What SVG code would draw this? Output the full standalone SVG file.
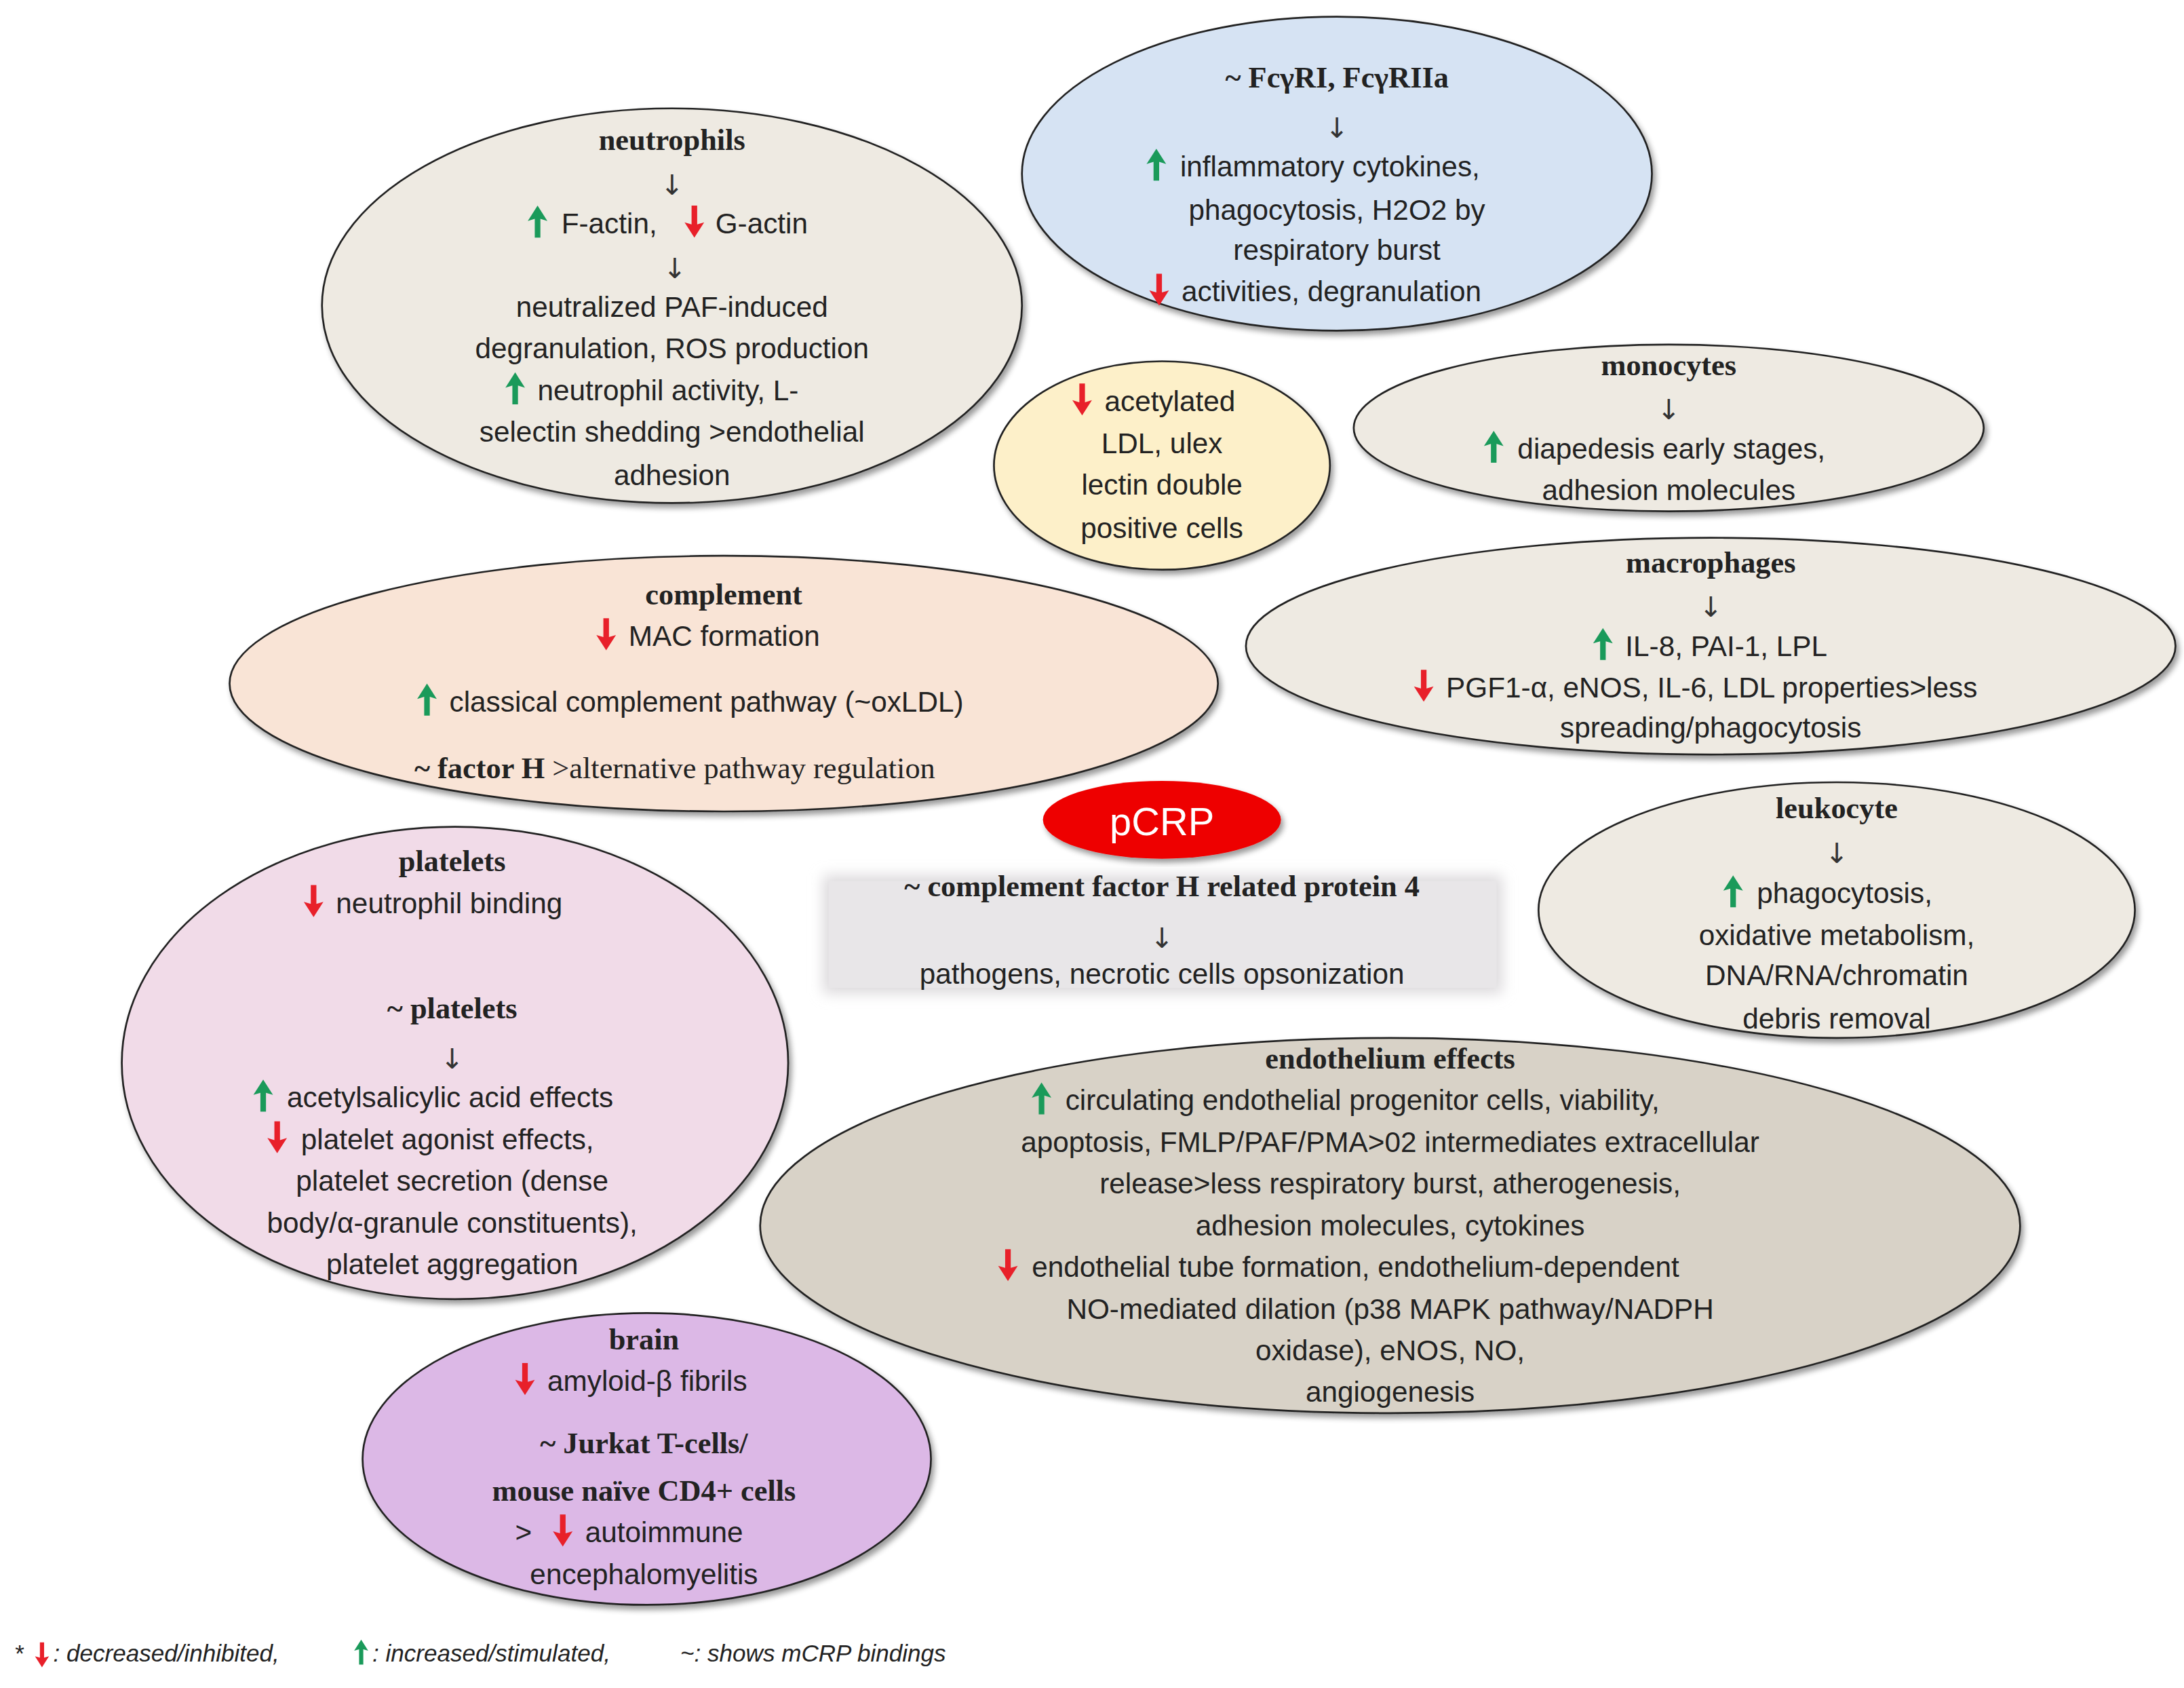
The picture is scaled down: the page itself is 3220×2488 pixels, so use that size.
<svg xmlns="http://www.w3.org/2000/svg" width="3220" height="2488" viewBox="0 0 3220 2488">
<style>
.e{stroke:#222;stroke-width:1.3}
.t{font-family:"Liberation Sans",Arial,sans-serif;font-size:20.5px;fill:#222}
.c{text-anchor:middle}
.b{font-family:"Liberation Serif","Times New Roman",serif;font-weight:bold;font-size:21.5px;fill:#222}
.a{font-family:"DejaVu Sans",sans-serif;font-size:20px;fill:#333;text-anchor:middle}
.i{font-family:"Liberation Sans",Arial,sans-serif;font-style:italic;font-size:17px;fill:#222}
</style>
<defs>
<path id="up" d="M0,-20 L-7,-9 L-2,-10.5 L-2,3 L2,3 L2,-10.5 L7,-9 Z" fill="#1a9a5a"/>
<path id="dn" d="M0,3 L-7,-8 L-2,-6.5 L-2,-20 L2,-20 L2,-6.5 L7,-8 Z" fill="#e8202a"/>
<filter id="sh" x="-10%" y="-10%" width="120%" height="120%"><feGaussianBlur in="SourceAlpha" stdDeviation="2"/><feOffset dx="2" dy="3"/><feComponentTransfer><feFuncA type="linear" slope="0.4"/></feComponentTransfer><feMerge><feMergeNode/><feMergeNode in="SourceGraphic"/></feMerge></filter>
<filter id="bl" x="-10%" y="-20%" width="120%" height="140%"><feGaussianBlur stdDeviation="5"/></filter>
</defs>
<rect width="3220" height="2488" fill="#fff"/>
<g transform="scale(2.064,2.048)">
<g id="neutrophils">
<ellipse class="e" cx="480" cy="220" rx="250" ry="142" fill="#eeeae2" filter="url(#sh)"/>
<text class="b c" x="480" y="108">neutrophils</text>
<text class="a" x="480" y="140">↓</text>
<use href="#up" x="384" y="168"/><text class="t" x="401" y="168">F-actin,</text>
<use href="#dn" x="496" y="168"/><text class="t" x="511" y="168">G-actin</text>
<text class="a" x="482" y="200">↓</text>
<text class="t c" x="480" y="228">neutralized PAF-induced</text>
<text class="t c" x="480" y="258">degranulation, ROS production</text>
<use href="#up" x="368" y="288"/><text class="t" x="384" y="288">neutrophil activity, L-</text>
<text class="t c" x="480" y="318">selectin shedding &gt;endothelial</text>
<text class="t c" x="480" y="349">adhesion</text>
</g>
<g id="fcgr">
<ellipse class="e" cx="955" cy="125" rx="225" ry="113" fill="#d6e3f3" filter="url(#sh)"/>
<text class="b c" x="955" y="63">~ FcγRI, FcγRIIa</text>
<text class="a" x="955" y="99">↓</text>
<use href="#up" x="826" y="127"/><text class="t" x="843" y="127">inflammatory cytokines,</text>
<text class="t c" x="955" y="158">phagocytosis, H2O2 by</text>
<text class="t c" x="955" y="187">respiratory burst</text>
<use href="#dn" x="828" y="217"/><text class="t" x="844" y="217">activities, degranulation</text>
</g>
<g id="acetylated">
<ellipse class="e" cx="830" cy="335" rx="120" ry="75" fill="#fdf0c9" filter="url(#sh)"/>
<use href="#dn" x="773" y="296"/><text class="t" x="789" y="296">acetylated</text>
<text class="t c" x="830" y="326">LDL, ulex</text>
<text class="t c" x="830" y="356">lectin double</text>
<text class="t c" x="830" y="387">positive cells</text>
</g>
<g id="monocytes">
<ellipse class="e" cx="1192" cy="308" rx="225" ry="60" fill="#eeeae2" filter="url(#sh)"/>
<text class="b c" x="1192" y="270">monocytes</text>
<text class="a" x="1192" y="302">↓</text>
<use href="#up" x="1067" y="330"/><text class="t" x="1084" y="330">diapedesis early stages,</text>
<text class="t c" x="1192" y="360">adhesion molecules</text>
</g>
<g id="macrophages">
<ellipse class="e" cx="1222" cy="465" rx="332" ry="78" fill="#eeeae2" filter="url(#sh)"/>
<text class="b c" x="1222" y="412">macrophages</text>
<text class="a" x="1222" y="444">↓</text>
<use href="#up" x="1145" y="472"/><text class="t" x="1161" y="472">IL-8, PAI-1, LPL</text>
<use href="#dn" x="1017" y="502"/><text class="t" x="1033" y="502">PGF1-α, eNOS, IL-6, LDL properties&gt;less</text>
<text class="t c" x="1222" y="531">spreading/phagocytosis</text>
</g>
<g id="complement">
<ellipse class="e" cx="517" cy="492" rx="353" ry="92" fill="#f9e4d6" filter="url(#sh)"/>
<text class="b c" x="517" y="435">complement</text>
<use href="#dn" x="433" y="465"/><text class="t" x="449" y="465">MAC formation</text>
<use href="#up" x="305" y="512"/><text class="t" x="321" y="512">classical complement pathway (~oxLDL)</text>
<text class="b" x="296" y="560" font-size="22">~ factor H <tspan font-weight="normal">&gt;alternative  pathway regulation</tspan></text>
</g>
<g id="pcrp">
<ellipse cx="830" cy="590" rx="85" ry="28" fill="#ee0000" filter="url(#sh)"/>
<text class="t c" x="830" y="601" font-size="28" fill="#fff" style="fill:#fff;font-size:28px">pCRP</text>
</g>
<g id="cfhr4">
<rect x="588" y="630" width="485" height="85" fill="#dcd9dc" filter="url(#bl)"/>
<rect x="592" y="634" width="477" height="77" fill="#e8e6e8"/>
<text class="b c" x="830" y="645">~ complement factor H related protein 4</text>
<text class="a" x="830" y="682">↓</text>
<text class="t c" x="830" y="708">pathogens, necrotic cells opsonization</text>
</g>
<g id="leukocyte">
<ellipse class="e" cx="1312" cy="655" rx="213" ry="92" fill="#eeeae2" filter="url(#sh)"/>
<text class="b c" x="1312" y="589">leukocyte</text>
<text class="a" x="1312" y="621">↓</text>
<use href="#up" x="1238" y="650"/><text class="t" x="1255" y="650">phagocytosis,</text>
<text class="t c" x="1312" y="680">oxidative metabolism,</text>
<text class="t c" x="1312" y="709">DNA/RNA/chromatin</text>
<text class="t c" x="1312" y="740">debris removal</text>
</g>
<g id="platelets">
<ellipse class="e" cx="325" cy="765" rx="238" ry="170" fill="#f1dbe8" filter="url(#sh)"/>
<text class="b c" x="323" y="627">platelets</text>
<use href="#dn" x="224" y="657"/><text class="t" x="240" y="657">neutrophil binding</text>
<text class="b c" x="323" y="733">~ platelets</text>
<text class="a" x="323" y="769">↓</text>
<use href="#up" x="188" y="797"/><text class="t" x="205" y="797">acetylsalicylic acid effects</text>
<use href="#dn" x="198" y="827"/><text class="t" x="215" y="827">platelet agonist effects,</text>
<text class="t c" x="323" y="857">platelet secretion (dense</text>
<text class="t c" x="323" y="887">body/α-granule constituents),</text>
<text class="t c" x="323" y="917">platelet aggregation</text>
</g>
<g id="endothelium">
<ellipse class="e" cx="993" cy="882" rx="450" ry="135" fill="#d8d2c7" filter="url(#sh)"/>
<text class="b c" x="993" y="769">endothelium effects</text>
<use href="#up" x="744" y="799"/><text class="t" x="761" y="799">circulating endothelial progenitor cells, viability,</text>
<text class="t c" x="993" y="829">apoptosis, FMLP/PAF/PMA&gt;02 intermediates extracellular</text>
<text class="t c" x="993" y="859">release&gt;less respiratory burst, atherogenesis,</text>
<text class="t c" x="993" y="889">adhesion molecules, cytokines</text>
<use href="#dn" x="720" y="919"/><text class="t" x="737" y="919">endothelial tube formation, endothelium-dependent</text>
<text class="t c" x="993" y="949">NO-mediated dilation (p38 MAPK pathway/NADPH</text>
<text class="t c" x="993" y="979">oxidase), eNOS, NO,</text>
<text class="t c" x="993" y="1009">angiogenesis</text>
</g>
<g id="brain">
<ellipse class="e" cx="462" cy="1050" rx="203" ry="105" fill="#dcb8e6" filter="url(#sh)"/>
<text class="b c" x="460" y="971">brain</text>
<use href="#dn" x="375" y="1001"/><text class="t" x="391" y="1001">amyloid-β fibrils</text>
<text class="b c" x="460" y="1046">~ Jurkat T-cells/</text>
<text class="b c" x="460" y="1080">mouse naïve CD4+ cells</text>
<text class="t" x="368" y="1110">&gt;</text>
<use href="#dn" x="402" y="1110"/><text class="t" x="418" y="1110">autoimmune</text>
<text class="t c" x="460" y="1140">encephalomyelitis</text>
</g>
<g id="legend">
<text class="i" x="10" y="1196" font-style="normal">*</text>
<use href="#dn" x="30" y="1198" transform="translate(3 360) scale(0.7)" style="display:none"/>
<path d="M30,1200 L25,1192 L28.5,1193 L28.5,1182 L31.5,1182 L31.5,1193 L35,1192 Z" fill="#e8202a"/>
<text class="i" x="38" y="1196">: decreased/inhibited,</text>
<path d="M258,1180 L253,1188 L256.5,1187 L256.5,1198 L259.5,1198 L259.5,1187 L263,1188 Z" fill="#1a9a5a"/>
<text class="i" x="266" y="1196">: increased/stimulated,</text>
<text class="i" x="486" y="1196">~: shows mCRP bindings</text>
</g>
<g id="connectors"/>
</g>
</svg>
